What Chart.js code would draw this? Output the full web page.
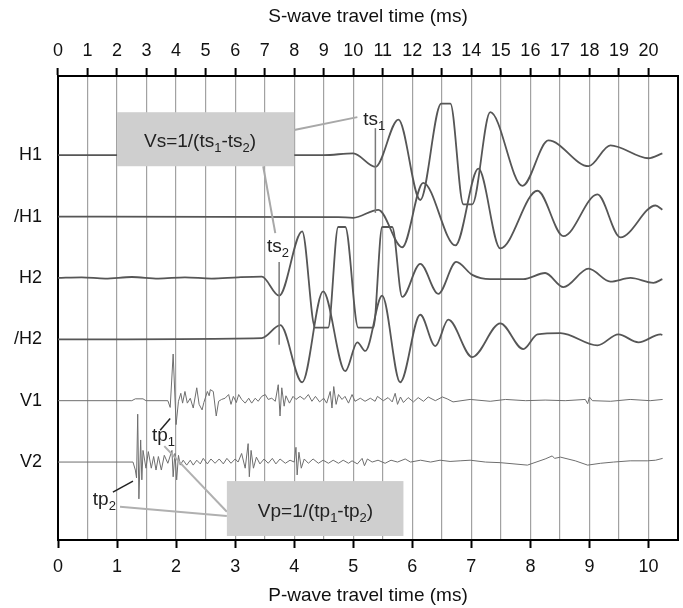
<!DOCTYPE html>
<html>
<head>
<meta charset="utf-8">
<script src="https://cdn.jsdelivr.net/npm/chart.js@4.4.0/dist/chart.umd.min.js"></script>
<style>
  html, body { margin: 0; padding: 0; background: #fff; }
  #wrap { width: 683px; height: 608px; }
</style>
</head>
<body>
<div id="wrap"><canvas id="chart"></canvas></div>
<script>
const traceNames = ['H1', '/H1', 'H2', '/H2', 'V1', 'V2'];
const traceOffsets = [6, 5, 4, 3, 2, 1];
const sTicks = [0, 1, 2, 3, 4, 5, 6, 7, 8, 9, 10, 11, 12, 13, 14, 15, 16, 17, 18, 19, 20];
const pTicks = [0, 1, 2, 3, 4, 5, 6, 7, 8, 9, 10];

// S-wave traces, time in ms on the top axis
const h1Time = [0, 9.0, 10.0, 10.75, 11.53, 12.27, 12.98, 13.29, 13.73, 14.03, 14.64, 15.73, 16.61, 17.97, 18.71, 20.0, 20.47];
const h1Amp = [0, 0, 0.03, -0.19, 0.58, -0.73, 0.84, 0.84, -0.8, -0.8, 0.7, -0.5, 0.24, -0.18, 0.16, -0.05, 0.03];

const h1InvTime = [0, 9.5, 10.0, 10.85, 11.66, 12.37, 13.46, 14.24, 14.98, 16.24, 17.12, 18.27, 19.05, 20.24, 20.47];
const h1InvAmp = [0, -0.01, -0.02, 0.11, -0.5, 0.55, -0.47, 0.78, -0.52, 0.42, -0.32, 0.36, -0.34, 0.18, 0.11];

const h2Time = [0, 0.8, 1.6, 2.5, 3.4, 4.3, 5.2, 6.1, 6.9, 7.49, 8.27, 8.71, 9.15, 9.49, 9.73, 10.17, 10.68, 10.98, 11.32, 11.66, 12.27, 12.88, 13.49, 14.03, 14.64, 15.76, 16.5, 17.12, 17.97, 18.71, 19.39, 20.17, 20.47];
const h2Amp = [0, 0.01, -0.01, 0.015, -0.01, 0.01, -0.01, 0.01, 0.02, -0.29, 0.76, -0.81, -0.81, 0.83, 0.83, -0.81, -0.81, 0.83, 0.83, -0.31, 0.23, -0.26, 0.26, 0.05, -0.02, -0.02, 0.08, -0.15, 0.15, -0.06, 0, -0.08, -0.02];

const h2InvTime = [0, 6.9, 7.53, 8.27, 8.98, 9.73, 10.14, 10.41, 10.98, 11.59, 12.27, 12.78, 13.22, 14.03, 14.98, 15.76, 16.24, 17.02, 18.27, 18.98, 19.66, 20.41, 20.47];
const h2InvAmp = [0, 0.02, 0.23, -0.7, 0.78, -0.52, -0.05, -0.19, 0.71, -0.7, 0.4, -0.11, 0.32, -0.29, 0.26, -0.16, 0.08, 0.1, -0.1, 0.08, -0.05, 0.08, 0.07];

// P-wave traces, time in ms on the bottom axis
const v1Time = [0, 1.25, 1.31, 1.44, 1.49, 1.86, 1.9, 1.95, 2.0, 2.04, 2.08, 2.11, 2.15, 2.19, 2.24, 2.29, 2.35, 2.39, 2.44, 2.47, 2.53, 2.56, 2.58, 2.63, 2.68, 2.72, 2.77, 2.83, 2.89, 2.93, 2.97, 3.02, 3.06, 3.11, 3.17, 3.23, 3.28, 3.34, 3.39, 3.45, 3.51, 3.56, 3.62, 3.68, 3.73, 3.76, 3.79, 3.83, 3.86, 3.92, 3.98, 4.03, 4.1, 4.17, 4.24, 4.3, 4.36, 4.43, 4.5, 4.55, 4.61, 4.64, 4.67, 4.71, 4.75, 4.81, 4.86, 4.92, 4.98, 5.03, 5.12, 5.2, 5.29, 5.37, 5.41, 5.51, 5.59, 5.66, 5.71, 5.75, 5.8, 5.85, 5.93, 6.02, 6.1, 6.19, 6.27, 6.39, 6.51, 6.59, 6.69, 6.98, 7.32, 7.58, 7.92, 8.25, 8.59, 8.93, 8.97, 9.0, 9.05, 9.36, 9.69, 10.03, 10.24];
const v1Amp = [0, 0, 0.03, 0.03, 0, 0, -0.11, 0.76, -0.39, -0.01, 0.12, -0.04, 0.15, -0.04, 0.04, -0.12, 0.21, -0.06, -0.15, -0.03, 0.15, 0.08, 0.18, 0.15, -0.25, -0.01, 0.02, 0.04, 0.1, -0.06, 0.07, -0.03, 0.1, 0.02, -0.04, 0.04, -0.04, 0.04, -0.01, 0.07, 0.1, 0.02, 0.04, -0.01, 0.26, -0.25, 0.21, -0.09, 0.08, -0.04, 0.07, 0.02, 0.07, 0.02, 0.1, -0.01, 0.07, -0.02, 0.04, -0.04, 0.15, -0.12, 0.23, -0.06, 0.1, 0.02, 0.07, -0.04, 0.1, -0.01, 0.04, -0.01, 0.04, -0.01, 0.07, 0, 0.05, -0.02, 0.12, -0.06, 0.06, -0.03, 0.05, -0.02, 0.05, -0.01, 0.06, 0, 0.06, 0.03, -0.02, 0.02, -0.01, 0.02, 0, 0.01, 0, 0.02, -0.05, 0.06, 0, -0.01, 0.02, 0, 0.02];

const v2Time = [0, 1.27, 1.31, 1.33, 1.35, 1.37, 1.4, 1.42, 1.44, 1.49, 1.53, 1.58, 1.62, 1.66, 1.7, 1.75, 1.8, 1.86, 1.93, 1.95, 1.98, 2.01, 2.04, 2.07, 2.12, 2.18, 2.24, 2.29, 2.35, 2.41, 2.46, 2.53, 2.59, 2.66, 2.73, 2.8, 2.86, 2.93, 3.0, 3.05, 3.11, 3.17, 3.22, 3.24, 3.27, 3.31, 3.36, 3.42, 3.49, 3.56, 3.63, 3.69, 3.76, 3.85, 3.93, 4.0, 4.03, 4.05, 4.08, 4.12, 4.17, 4.24, 4.32, 4.41, 4.49, 4.58, 4.66, 4.75, 4.83, 4.92, 4.98, 5.07, 5.15, 5.19, 5.24, 5.32, 5.42, 5.54, 5.64, 5.75, 5.88, 5.97, 6.14, 6.31, 6.47, 6.64, 6.81, 6.98, 7.24, 7.49, 7.95, 8.25, 8.37, 8.41, 8.51, 8.76, 8.97, 9.19, 9.41, 9.69, 9.98, 10.12, 10.24];
const v2Amp = [0, 0, -0.13, -0.26, 0.78, -0.6, 0.36, -0.29, 0.19, -0.1, 0.17, -0.1, 0.09, -0.13, 0.09, -0.13, 0.11, -0.02, 0.19, -0.24, 0.14, -0.29, 0.11, -0.05, 0.03, -0.05, 0.03, -0.05, 0.03, -0.03, 0.06, -0.03, 0.05, -0.02, 0.05, -0.03, 0.06, -0.02, 0.05, 0, 0.14, -0.1, 0.3, -0.24, 0.19, -0.1, 0.08, -0.03, 0.05, -0.02, 0.06, -0.03, 0.05, -0.02, 0.03, 0, 0.24, -0.21, 0.16, -0.1, 0.05, -0.02, 0.05, -0.02, 0.03, -0.02, 0.03, -0.02, 0.03, -0.02, 0.02, -0.03, 0.06, -0.06, 0.05, 0, 0.03, -0.02, 0.03, 0, 0.05, 0, 0.03, 0, 0.03, 0.01, 0.02, 0.03, 0, -0.01, -0.05, 0.05, 0.1, 0.06, 0.08, 0.02, -0.05, -0.02, 0, 0.02, 0.02, 0.03, 0.06];

const FONT = '"Liberation Sans", Arial, Helvetica, sans-serif';

function toPoints(times, amps, offset) {
    return times.map((t, i) => ({ x: t, y: offset + amps[i] }));
}

function sTrace(times, amps, offset) {
    return {
        data: toPoints(times, amps, offset),
        xAxisID: 'xS', yAxisID: 'y',
        borderColor: '#565656', borderWidth: 1.8,
        pointRadius: 0, fill: false,
        cubicInterpolationMode: 'monotone'
    };
}

function pTrace(times, amps, offset) {
    return {
        data: toPoints(times, amps, offset),
        xAxisID: 'xP', yAxisID: 'y',
        borderColor: '#6e6e6e', borderWidth: 1,
        pointRadius: 0, fill: false, tension: 0
    };
}

function drawSubText(ctx, parts, x, y, align, size) {
    const big = size + 'px ' + FONT;
    const small = Math.round(size * 0.68) + 'px ' + FONT;
    let w = 0;
    parts.forEach(([s, sub]) => { ctx.font = sub ? small : big; w += ctx.measureText(s).width; });
    let cx = align === 'center' ? x - w / 2 : x;
    ctx.textAlign = 'left';
    ctx.textBaseline = 'alphabetic';
    parts.forEach(([s, sub]) => {
        ctx.font = sub ? small : big;
        ctx.fillText(s, cx, sub ? y + 5 : y);
        cx += ctx.measureText(s).width;
    });
}

const annotations = {
    id: 'annotations',
    afterDatasetsDraw(chart) {
        const { ctx, chartArea, scales } = chart;
        const sx = v => scales.xS.getPixelForValue(v);
        const px = v => scales.xP.getPixelForValue(v);
        const py = v => scales.y.getPixelForValue(v);
        const line = (x1, y1, x2, y2, color, width) => {
            ctx.beginPath();
            ctx.moveTo(x1, y1);
            ctx.lineTo(x2, y2);
            ctx.strokeStyle = color;
            ctx.lineWidth = width;
            ctx.stroke();
        };
        ctx.save();

        // arrival markers
        line(sx(10.75), py(6.44), sx(10.75), py(5.06), '#7a7a7a', 1.5);
        line(sx(7.49), py(4.26), sx(7.49), py(2.91), '#7a7a7a', 1.5);

        // leader lines
        line(sx(8.0), py(6.41), sx(10.14), py(6.62), '#a8a8a8', 2);
        line(sx(6.95), py(5.82), sx(7.36), py(4.73), '#a8a8a8', 2);
        line(px(1.8), py(1.26), px(2.86), py(0.19), '#b0b0b0', 2);
        line(px(1.05), py(0.27), px(2.86), py(0.12), '#b0b0b0', 2);
        line(px(1.73), py(1.52), px(1.9), py(1.71), '#222', 1.5);
        line(px(0.93), py(0.51), px(1.27), py(0.69), '#222', 1.5);

        // boxes
        ctx.fillStyle = '#cfcfcf';
        ctx.fillRect(sx(2.0), py(6.70), sx(8.0) - sx(2.0), py(5.82) - py(6.70));
        ctx.fillRect(px(2.86), py(0.69), px(5.85) - px(2.86), py(-0.205) - py(0.69));

        ctx.fillStyle = '#222';
        drawSubText(ctx, [['Vs=1/(ts', false], ['1', true], ['-ts', false], ['2', true], [')', false]], sx(4.81), py(6.13), 'center', 19);
        drawSubText(ctx, [['Vp=1/(tp', false], ['1', true], ['-tp', false], ['2', true], [')', false]], px(4.36), py(0.10), 'center', 19);
        drawSubText(ctx, [['ts', false], ['1', true]], sx(10.34), py(6.49), 'left', 19);
        drawSubText(ctx, [['ts', false], ['2', true]], sx(7.08), py(4.42), 'left', 19);
        drawSubText(ctx, [['tp', false], ['1', true]], px(1.59), py(1.34), 'left', 19);
        drawSubText(ctx, [['tp', false], ['2', true]], px(0.59), py(0.30), 'left', 19);

        // right frame
        line(chartArea.right, chartArea.top - 1, chartArea.right, chartArea.bottom + 1, '#000', 2);
        ctx.restore();
    }
};

new Chart(document.getElementById('chart'), {
    type: 'line',
    data: {
        datasets: [
            sTrace(h1Time, h1Amp, traceOffsets[0]),
            sTrace(h1InvTime, h1InvAmp, traceOffsets[1]),
            sTrace(h2Time, h2Amp, traceOffsets[2]),
            sTrace(h2InvTime, h2InvAmp, traceOffsets[3]),
            pTrace(v1Time, v1Amp, traceOffsets[4]),
            pTrace(v2Time, v2Amp, traceOffsets[5])
        ]
    },
    options: {
        responsive: true,
        maintainAspectRatio: false,
        animation: false,
        layout: { padding: { top: 0, right: 5, bottom: 0, left: 0 } },
        plugins: { legend: { display: false }, tooltip: { enabled: false } },
        scales: {
            xS: {
                type: 'linear', position: 'top', min: 0, max: 21,
                afterBuildTicks: axis => { axis.ticks = sTicks.map(v => ({ value: v })); },
                afterFit: axis => { axis.height = 76; },
                ticks: { color: '#111', font: { family: FONT, size: 18 }, padding: 6, maxRotation: 0, autoSkip: false },
                grid: {
                    color: c => (c.tick && c.tick.value === 0) ? 'rgba(0,0,0,0)' : '#a2a2a2',
                    lineWidth: 1.2,
                    tickColor: '#000', tickWidth: 2, tickLength: 8
                },
                border: { display: true, color: '#000', width: 2 },
                title: { display: true, text: 'S-wave travel time (ms)', color: '#111', font: { family: FONT, size: 19 }, padding: { top: 5, bottom: 0 } }
            },
            xP: {
                type: 'linear', position: 'bottom', min: 0, max: 10.5,
                afterBuildTicks: axis => { axis.ticks = pTicks.map(v => ({ value: v })); },
                afterFit: axis => { axis.height = 68; },
                ticks: { color: '#111', font: { family: FONT, size: 18 }, padding: 8, maxRotation: 0, autoSkip: false },
                grid: { drawOnChartArea: false, tickColor: '#000', tickWidth: 2, tickLength: 8 },
                border: { display: true, color: '#000', width: 2 },
                title: { display: true, text: 'P-wave travel time (ms)', color: '#111', font: { family: FONT, size: 19 }, padding: { top: 0, bottom: 1 } }
            },
            y: {
                type: 'linear', position: 'left', min: -0.27, max: 7.29,
                afterBuildTicks: axis => { axis.ticks = traceOffsets.map(v => ({ value: v })); },
                afterFit: axis => { axis.width = 58; },
                ticks: {
                    color: '#111', font: { family: FONT, size: 18 }, padding: 16,
                    callback: v => traceNames[traceOffsets.indexOf(v)]
                },
                grid: { drawOnChartArea: false, drawTicks: false },
                border: { display: true, color: '#000', width: 2 }
            }
        }
    },
    plugins: [annotations]
});
</script>
</body>
</html>
